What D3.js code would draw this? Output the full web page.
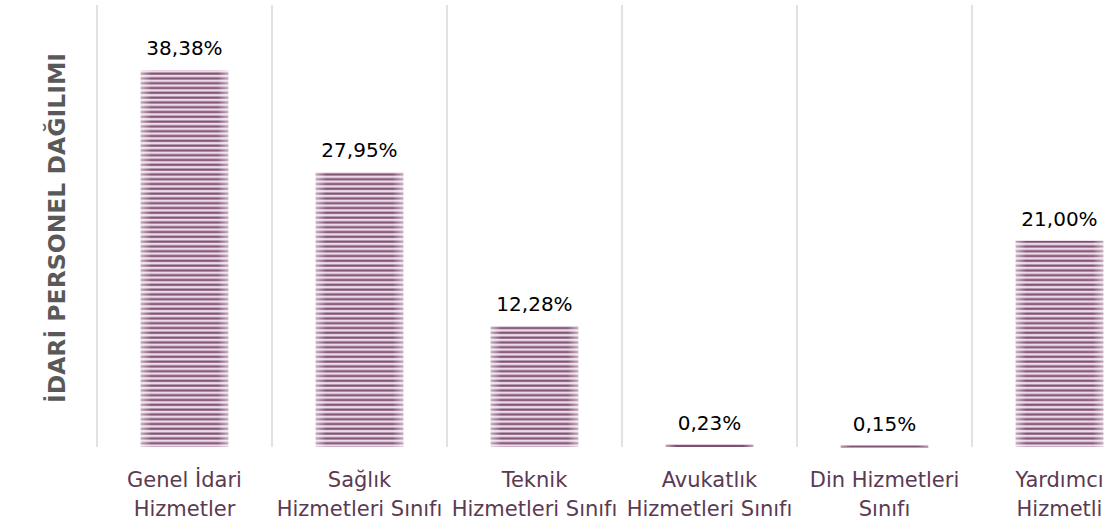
<!DOCTYPE html>
<html>
<head>
<meta charset="utf-8">
<script src="https://cdn.jsdelivr.net/npm/d3@7"></script>
<style>
body{margin:0;background:#fff;}
svg{display:block;}
</style>
</head>
<body>
<svg id="chart" width="1117" height="528"></svg>
<script>
// veriler
var categories = ["Genel İdari|Hizmetler", "Sağlık|Hizmetleri Sınıfı", "Teknik|Hizmetleri Sınıfı",
    "Avukatlık|Hizmetleri Sınıfı", "Din Hizmetleri|Sınıfı", "Yardımcı|Hizmetli"];
var values = [38.38, 27.95, 12.28, 0.23, 0.15, 21.00];
var yMax = 45;
var title = "İDARİ PERSONEL DAĞILIMI";

var svg = d3.select("#chart");
var left = 97, step = 175, baseY = 447, topY = 5;

var x = d3.scaleBand()
    .domain(categories)
    .range([left, left + step * categories.length])
    .paddingInner(0.5)
    .paddingOuter(0.25);
var y = d3.scaleLinear()
    .domain([0, yMax])
    .range([baseY, topY]);

// çizgili desen
var defs = svg.append("defs");
var pat = defs.append("pattern")
    .attr("id", "stripes")
    .attr("patternUnits", "userSpaceOnUse")
    .attr("width", 10)
    .attr("height", 4.8);
pat.append("rect").attr("width", 10).attr("height", 4.8).attr("fill", "#ecd9e7");
pat.append("rect").attr("y", 0.5).attr("width", 10).attr("height", 2.2).attr("fill", "#7f5073");

var grad = defs.append("linearGradient").attr("id", "edge")
    .attr("x1", "0%").attr("x2", "100%").attr("y1", "0%").attr("y2", "0%");
grad.append("stop").attr("offset", "0%").attr("stop-color", "#fff").attr("stop-opacity", 0.5);
grad.append("stop").attr("offset", "12%").attr("stop-color", "#fff").attr("stop-opacity", 0);
grad.append("stop").attr("offset", "88%").attr("stop-color", "#fff").attr("stop-opacity", 0);
grad.append("stop").attr("offset", "100%").attr("stop-color", "#fff").attr("stop-opacity", 0.5);

// dikey kılavuz çizgileri
var gridX = categories.map(function(d){ return x(d) - x.step() * 0.25; });
gridX.push(left + step * categories.length);
svg.append("g").selectAll("line")
    .data(gridX)
    .enter().append("line")
    .attr("x1", function(d){ return d; })
    .attr("x2", function(d){ return d; })
    .attr("y1", topY)
    .attr("y2", baseY)
    .style("stroke", "#d9d9d9")
    .style("stroke-width", 1.5);

// çubuklar
var bars = svg.append("g").selectAll("g")
    .data(values)
    .enter().append("g");
bars.append("rect")
    .attr("x", function(d, i){ return x(categories[i]); })
    .attr("y", function(d){ return y(d); })
    .attr("width", x.bandwidth())
    .attr("height", function(d){ return Math.max(baseY - y(d), 2); })
    .attr("fill", function(d){ return (baseY - y(d)) < 4 ? "#7f5073" : "url(#stripes)"; });
bars.append("rect")
    .attr("x", function(d, i){ return x(categories[i]); })
    .attr("y", function(d){ return y(d); })
    .attr("width", x.bandwidth())
    .attr("height", function(d){ return baseY - y(d); })
    .attr("fill", "url(#edge)");

// değer etiketleri
svg.append("g").selectAll("text")
    .data(values)
    .enter().append("text")
    .attr("x", function(d, i){ return x(categories[i]) + x.bandwidth() / 2; })
    .attr("y", function(d){ return y(d) - 15; })
    .style("text-anchor", "middle")
    .style("font-family", "DejaVu Sans")
    .style("font-size", "20px")
    .style("fill", "#000")
    .text(function(d){ return d.toFixed(2).replace(".", ",") + "%"; });

// kategori etiketleri
var cat = svg.append("g").selectAll("text")
    .data(categories)
    .enter().append("text")
    .attr("x", function(d){ return x(d) + x.bandwidth() / 2; })
    .attr("y", 487)
    .style("text-anchor", "middle")
    .style("font-family", "DejaVu Sans")
    .style("font-size", "21px")
    .style("fill", "#5b3a52");
cat.selectAll("tspan")
    .data(function(d){ return d.split("|"); })
    .enter().append("tspan")
    .attr("x", function(){ return this.parentNode.getAttribute("x"); })
    .attr("dy", function(d, i){ return i == 0 ? 0 : 29; })
    .text(function(d){ return d; });

// eksen başlığı
svg.append("text")
    .attr("transform", "translate(65," + 228 + ") rotate(-90)")
    .style("text-anchor", "middle")
    .style("font-family", "DejaVu Sans")
    .style("font-weight", "bold")
    .style("font-size", "23.5px")
    .style("fill", "#595959")
    .text(title);
</script>
</body>
</html>
